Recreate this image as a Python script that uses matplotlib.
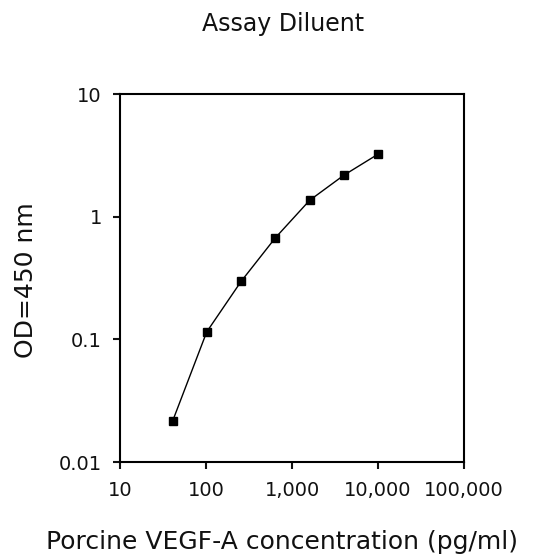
import numpy as np
import matplotlib
matplotlib.use("Agg")
import matplotlib.pyplot as plt
from matplotlib.ticker import FixedLocator, FixedFormatter, NullLocator

# standard curve, 2.5-fold dilutions
conc = [41, 102, 256, 640, 1600, 4000, 10000]
od = [0.0216, 0.115, 0.297, 0.673, 1.36, 2.18, 3.24]

xticks = [10, 100, 1000, 10000, 100000]
xticklabels = ['10', '100', '1,000', '10,000', '100,000']
yticks = [0.01, 0.1, 1, 10]
yticklabels = ['0.01', '0.1', '1', '10']

plt.rcParams['font.family'] = ['DejaVu Sans']

fig = plt.figure(figsize=(5.5, 5.6), dpi=100)
ax = fig.add_axes([0.218, 0.175, 0.626, 0.657])

ax.plot(conc, od, color='black', lw=1.0, marker='s', ms=6, mfc='black', mec='black')

ax.set_xscale('log')
ax.set_yscale('log')
ax.set_xlim(10, 100000)
ax.set_ylim(0.01, 10)

ax.xaxis.set_major_locator(FixedLocator(xticks))
ax.xaxis.set_major_formatter(FixedFormatter(xticklabels))
ax.xaxis.set_minor_locator(NullLocator())
ax.yaxis.set_major_locator(FixedLocator(yticks))
ax.yaxis.set_major_formatter(FixedFormatter(yticklabels))
ax.yaxis.set_minor_locator(NullLocator())

for s in ax.spines.values():
    s.set_linewidth(1.5)
ax.tick_params(direction='out', length=5, width=1.5, labelsize=14, colors='#111111')
ax.tick_params(axis='x', pad=9)
ax.tick_params(axis='y', pad=8)

ax.set_xlabel('Porcine VEGF-A concentration (pg/ml)', fontsize=18, labelpad=21, color='#111111')
ax.xaxis.label.set_x(0.47)
ax.set_ylabel('OD=450 nm', fontsize=18, color='#111111')
ax.yaxis.set_label_coords(-0.238, 0.495)
fig.text(0.515, 0.957, 'Assay Diluent', ha='center', va='center', fontsize=17, color='#111111')

fig.savefig('out.png', dpi=100)
